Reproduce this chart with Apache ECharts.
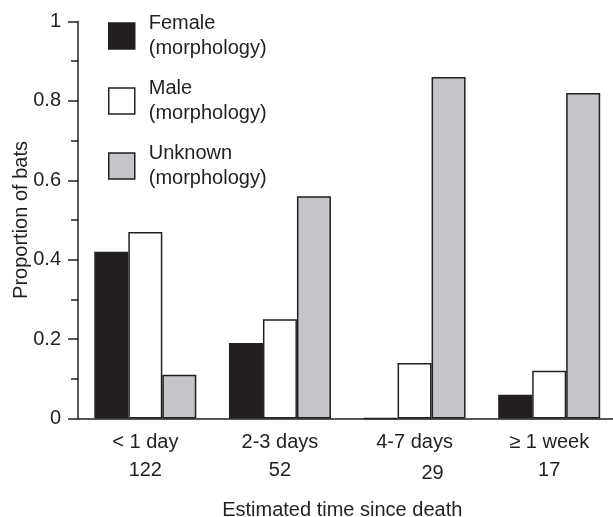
<!DOCTYPE html>
<html><head><meta charset="utf-8">
<script src="https://cdn.jsdelivr.net/npm/echarts@6/dist/echarts.min.js"></script>
<style>html,body{margin:0;padding:0;background:#fff}#c{width:613px;height:517px}</style>
</head><body><div id="c"></div>
<script>
const categories = ['< 1 day', '2-3 days', '4-7 days', '≥ 1 week'];
const counts = ['122', '52', '29', '17'];
const female = [0.42, 0.19, 0, 0.06];
const male = [0.47, 0.25, 0.14, 0.12];
const unknown = [0.11, 0.56, 0.86, 0.82];
const yTicks = [0, 0.2, 0.4, 0.6, 0.8, 1];

const FONT = 'Liberation Sans, Arial, sans-serif';
const INK = '#231f20';
const chart = echarts.init(document.getElementById('c'));
const barStyle = c => ({ color: c, borderColor: INK, borderWidth: 1.5 });
chart.setOption({
  animation: false,
  textStyle: { fontFamily: FONT, color: INK },
  grid: { left: 78, right: -3.5, top: 21.5, bottom: 98.5, outerBoundsMode: 'none', containLabel: false },
  legend: {
    orient: 'vertical', left: 108, top: 11, padding: 0, itemWidth: 26, itemHeight: 26, itemGap: 15,
    icon: 'rect',
    textStyle: { fontSize: 20, lineHeight: 25, color: INK, fontFamily: FONT, padding: [0, 0, 0, 9] },
    itemStyle: { borderColor: INK, borderWidth: 1.5 },
    data: ['Female\n(morphology)', 'Male\n(morphology)', 'Unknown\n(morphology)']
  },
  xAxis: {
    type: 'category', data: categories,
    name: 'Estimated time since death', nameLocation: 'middle', nameGap: 82, nameMoveOverlap: false,
    nameTextStyle: { fontSize: 20, color: INK, fontFamily: FONT, padding: [0, 10, 0, 0] },
    axisLine: { lineStyle: { color: INK, width: 1.5 } },
    axisTick: { show: false },
    axisLabel: {
      margin: 10, fontSize: 20, lineHeight: 28, color: INK, fontFamily: FONT,
      formatter: (v, i) => v + '\n' + (i === 2 ? '{shift|' + counts[i] + '}' : counts[i]),
      rich: { shift: { fontSize: 20, lineHeight: 28, padding: [6, 0, 0, 36], color: INK, fontFamily: FONT } }
    }
  },
  yAxis: {
    type: 'value', min: 0, max: 1, interval: 0.2,
    name: 'Proportion of bats', nameLocation: 'middle', nameGap: 47, nameMoveOverlap: false,
    nameTextStyle: { fontSize: 20, color: INK, fontFamily: FONT },
    axisLine: { show: true, lineStyle: { color: INK, width: 1.5 } },
    axisTick: { show: true, length: 10, lineStyle: { color: INK, width: 1.5 } },
    minorTick: { show: true, splitNumber: 2, length: 7, lineStyle: { color: INK, width: 1.5 } },
    splitLine: { show: false },
    axisLabel: {
      margin: 17, fontSize: 20, color: INK, fontFamily: FONT,
      formatter: v => yTicks.includes(v) ? String(v) : ''
    }
  },
  series: [
    { name: 'Female\n(morphology)', type: 'bar', data: female, barWidth: 34, barGap: '0%', itemStyle: barStyle('#231f20') },
    { name: 'Male\n(morphology)', type: 'bar', data: male, barWidth: 34, barGap: '0%', itemStyle: barStyle('#ffffff') },
    { name: 'Unknown\n(morphology)', type: 'bar', data: unknown, barWidth: 34, barGap: '0%', itemStyle: barStyle('#c4c5c8') }
  ]
});
</script></body></html>
